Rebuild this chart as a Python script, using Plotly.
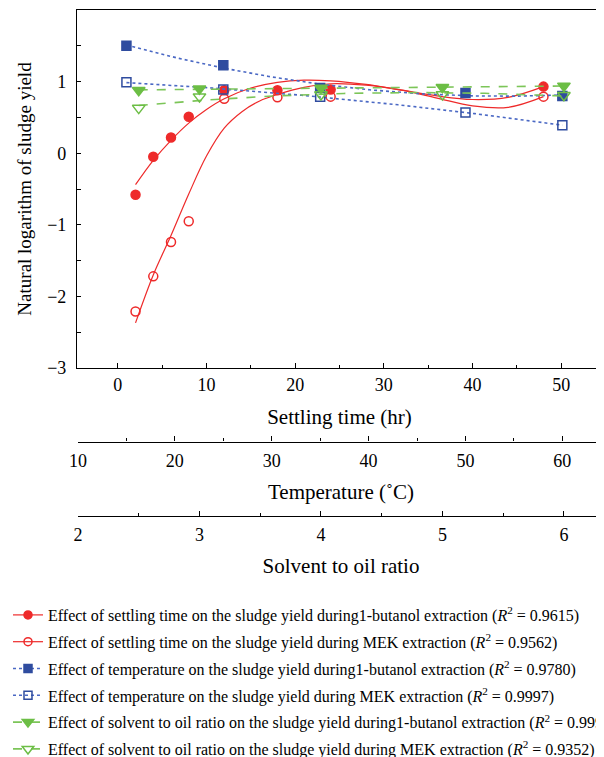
import numpy as np
import plotly.graph_objects as go

# ---------------- data ----------------
settling_time = [2, 4, 6, 8, 12, 18, 24, 48]
butanol_settling = [-0.58, -0.05, 0.22, 0.51, 0.88, 0.88, 0.89, 0.93]
mek_settling = [-2.21, -1.72, -1.24, -0.95, 0.76, 0.78, 0.79, 0.79]

temperature = [15, 25, 35, 50, 60]
butanol_temp = [1.50, 1.23, 0.91, 0.84, 0.80]
mek_temp = [0.99, 0.89, 0.79, 0.57, 0.39]

solvent_ratio = [2.5, 3, 4, 5, 6]
butanol_solvent = [0.88, 0.90, 0.91, 0.92, 0.94]
mek_solvent = [0.63, 0.79, 0.82, 0.82, 0.81]

# fitted trend curves of the settling-time series
butanol_fit_x = [2, 4, 6, 8, 10, 12, 15, 18, 21, 24, 28, 32, 36, 40, 44, 48]
butanol_fit_y = [-0.44, -0.10, 0.18, 0.42, 0.61, 0.76, 0.91, 0.99, 1.02, 1.01,
                 0.96, 0.88, 0.80, 0.75, 0.78, 0.93]
mek_fit_x = [2, 4, 6, 8, 10, 12, 14, 16, 18, 21, 24, 28, 32, 36, 40, 44, 48]
mek_fit_y = [-2.37, -1.70, -1.15, -0.57, -0.04, 0.35, 0.58, 0.73, 0.82, 0.92,
             0.97, 0.95, 0.88, 0.77, 0.66, 0.64, 0.79]

legend_names = [
    "Effect of settling time on the sludge yield during1-butanol extraction (<i>R</i><sup>2</sup> = 0.9615)",
    "Effect of settling time on the sludge yield during MEK extraction (<i>R</i><sup>2</sup> = 0.9562)",
    "Effect of temperature on the sludge yield during1-butanol extraction (<i>R</i><sup>2</sup> = 0.9780)",
    "Effect of temperature on the sludge yield during MEK extraction (<i>R</i><sup>2</sup> = 0.9997)",
    "Effect of solvent to oil ratio on the sludge yield during1-butanol extraction (<i>R</i><sup>2</sup> = 0.9993)",
    "Effect of solvent to oil ratio on the sludge yield during MEK extraction (<i>R</i><sup>2</sup> = 0.9352)",
]

RED = "#EE2A2A"
BLUE = "#2F4C9F"
BLUE_LINE = "#4A68C4"
GREEN = "#6CBE45"
GREEN_LINE = "#7CC558"
FONT = "Liberation Serif"


def quad_fit(x, y, n=200):
    c = np.polyfit(x, y, 2)
    xs = np.linspace(min(x), max(x), n)
    return xs, np.polyval(c, xs)


fig = go.Figure()

series = [
    (settling_time, butanol_settling, "x", (butanol_fit_x, butanol_fit_y), RED, RED, "solid", "circle"),
    (settling_time, mek_settling, "x", (mek_fit_x, mek_fit_y), RED, RED, "solid", "circle-open"),
    (temperature, butanol_temp, "x2", None, BLUE, BLUE_LINE, "dot", "square"),
    (temperature, mek_temp, "x2", None, BLUE, BLUE_LINE, "dot", "square-open"),
    (solvent_ratio, butanol_solvent, "x3", None, GREEN, GREEN_LINE, "dash", "triangle-down"),
    (solvent_ratio, mek_solvent, "x3", None, GREEN, GREEN_LINE, "dash", "triangle-down-open"),
]

msize = {"circle": 9, "circle-open": 9, "square": 9, "square-open": 9,
         "triangle-down": 11, "triangle-down-open": 11}

for i, (x, y, xa, fit, col, lcol, dash, sym) in enumerate(series):
    if fit is None:
        xs, ys = quad_fit(x, y)
        shape = "linear"
    else:
        xs, ys = fit
        shape = "spline"
    lw = 1.2 if dash == "solid" else 1.6
    fig.add_trace(go.Scatter(x=xs, y=ys, mode="lines", xaxis=xa, yaxis="y",
                             line=dict(color=lcol, width=lw, dash=dash, shape=shape),
                             showlegend=False, hoverinfo="skip"))
    fig.add_trace(go.Scatter(x=x, y=y, mode="markers", xaxis=xa, yaxis="y",
                             marker=dict(symbol=sym, size=msize[sym], color=col,
                                         line=dict(color=col, width=1.5)),
                             showlegend=False))
    fig.add_trace(go.Scatter(x=[None], y=[None], mode="lines+markers", xaxis=xa, yaxis="y",
                             name=legend_names[i], legendgroup=f"g{i}",
                             line=dict(color=lcol, width=lw, dash=dash),
                             marker=dict(symbol=sym, size=msize[sym] - 1, color=col,
                                         line=dict(color=col, width=1.5))))

# page is rendered with an 8px body offset -> layout is shifted by 8px
OFF = 8
W, H = 604, 757
L, R, T, B = 77 - OFF, OFF, 10 - OFF, 241 + OFF
pw = W - L - R
ph = H - T - B


def px_y(py):
    """page y pixel -> paper fraction"""
    return (H - B - (py - OFF)) / ph


def px_x(px):
    """page x pixel -> paper fraction"""
    return (px - OFF - L) / pw


axis_common = dict(showline=True, linecolor="black", linewidth=1.2, showgrid=False,
                   zeroline=False, ticks="inside", tickcolor="black", automargin=False,
                   tickfont=dict(family=FONT, size=18, color="black"))
title_font = dict(family=FONT, size=21, color="black")

fig.update_layout(
    width=W, height=H,
    margin=dict(l=L, r=R, t=T, b=B, autoexpand=False),
    paper_bgcolor="white", plot_bgcolor="rgba(0,0,0,0)",
    font=dict(family=FONT, color="black"),
    xaxis=dict(**axis_common, domain=[px_x(77), px_x(602)], range=[-4.6, 54.6], anchor="y",
               tickvals=[0, 10, 20, 30, 40, 50], ticklen=5, mirror=True,
               minor=dict(dtick=5, tick0=0, ticks="inside", ticklen=3, tickcolor="black"),
               title=dict(text="Settling time (hr)", font=title_font, standoff=15)),
    xaxis2=dict(**axis_common, domain=[px_x(78), 1], range=[10, 64.3], anchor="free",
                position=px_y(441.5), tickvals=[10, 20, 30, 40, 50, 60], ticklen=5,
                ticklabelstandoff=3,
                minor=dict(dtick=5, tick0=0, ticks="inside", ticklen=3, tickcolor="black"),
                title=dict(text="Temperature (˚C)", font=title_font, standoff=14)),
    xaxis3=dict(**axis_common, domain=[px_x(78), 1], range=[2, 6.33], anchor="free",
                position=px_y(516), tickvals=[2, 3, 4, 5, 6], ticklen=5,
                ticklabelstandoff=2,
                minor=dict(dtick=0.5, tick0=0, ticks="inside", ticklen=3, tickcolor="black"),
                title=dict(text="Solvent to oil ratio", font=title_font, standoff=14)),
    yaxis=dict(**axis_common, domain=[px_y(368), 1], range=[-3, 2], anchor="x",
               tickvals=[-3, -2, -1, 0, 1], ticktext=["−3", "−2", "−1", "0", "1"],
               ticklen=4, mirror="ticks", ticklabelstandoff=6,
               minor=dict(dtick=0.5, tick0=0, ticks="inside", ticklen=4, tickcolor="black"),
               title=dict(text="Natural logarithm of sludge yield",
                          font=dict(family=FONT, size=19, color="black"), standoff=10)),
    legend=dict(x=px_x(8), y=px_y(598), xanchor="left", yanchor="top",
                font=dict(family=FONT, size=16, color="black"),
                tracegroupgap=3, bgcolor="rgba(0,0,0,0)"),
    showlegend=True,
)

fig.write_html("out.html")
